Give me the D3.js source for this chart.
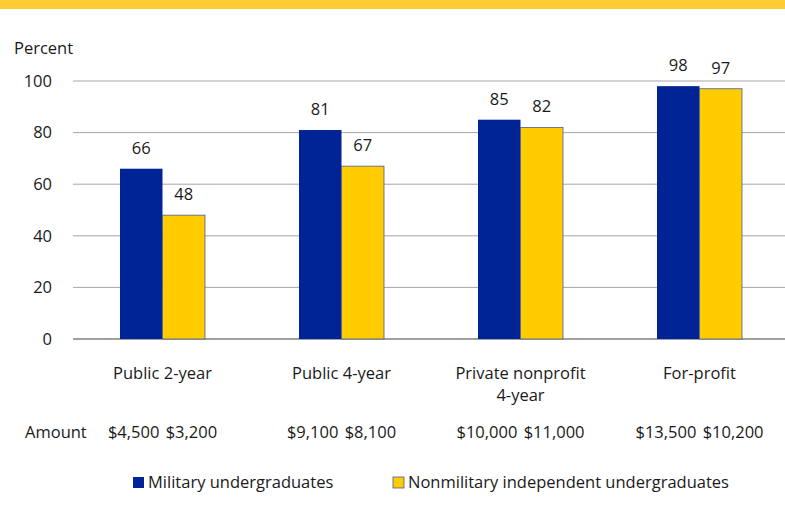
<!DOCTYPE html>
<html>
<head>
<meta charset="utf-8">
<script src="https://cdn.jsdelivr.net/npm/d3@7"></script>
<style>
  body { margin: 0; background: #fff; }
  text { font-family: "Open Sans", sans-serif; fill: #1a1a1a; }
</style>
</head>
<body>
<svg id="chart" width="785" height="516"></svg>
<script>
// data
const categories = ["Public 2-year", "Public 4-year", "Private nonprofit\n4-year", "For-profit"];
const series = ["Military undergraduates", "Nonmilitary independent undergraduates"];
const military = [66, 81, 85, 98];
const nonmilitary = [48, 67, 82, 97];
const amounts = ["$4,500 $3,200", "$9,100 $8,100", "$10,000 $11,000", "$13,500 $10,200"];
const yTicks = [0, 20, 40, 60, 80, 100];

const colors = ["#002395", "#ffcc00"];
const fs = 16.5;

const svg = d3.select("#chart");

// yellow band at top
svg.append("rect").attr("x", 0).attr("y", 0).attr("width", 785).attr("height", 9).attr("fill", "#ffcc33");

const x = d3.scaleBand().domain(categories).range([73, 789]);
const xInner = d3.scaleBand().domain(series).range([0, 85]);
const y = d3.scaleLinear().domain([0, 100]).range([339, 81]);

// gridlines
svg.append("g").selectAll("line").data(yTicks).enter()
  .append("line")
  .attr("x1", 73).attr("x2", 785)
  .attr("y1", d => y(d)).attr("y2", d => y(d))
  .attr("stroke", d => d === 0 ? "#808080" : "#a6a6a6")
  .attr("stroke-width", d => d === 0 ? 1.5 : 1);

// y tick labels
svg.append("g").selectAll("text").data(yTicks).enter()
  .append("text")
  .attr("x", 52).attr("y", d => y(d))
  .attr("dy", "0.35em")
  .attr("text-anchor", "end")
  .attr("font-size", fs)
  .text(d => d);

svg.append("text").attr("x", 14).attr("y", 54).attr("font-size", fs).text("Percent");

const rows = categories.map((c, i) => ({cat: c, vals: [military[i], nonmilitary[i]]}));

const groups = svg.append("g").selectAll("g").data(rows).enter()
  .append("g")
  .attr("transform", d => `translate(${x(d.cat) + x.bandwidth() / 2 - 42.5},0)`);

groups.selectAll("rect").data(d => d.vals.map((v, j) => ({s: series[j], v: v, j: j}))).enter()
  .append("rect")
  .attr("x", d => xInner(d.s))
  .attr("width", xInner.bandwidth())
  .attr("y", d => y(d.v))
  .attr("height", d => y(0) - y(d.v))
  .attr("fill", d => colors[d.j])
  .attr("stroke", d => d.j === 1 ? "#4a5a9a" : "none")
  .attr("stroke-width", 0.8);

groups.selectAll("text").data(d => d.vals.map((v, j) => ({s: series[j], v: v}))).enter()
  .append("text")
  .attr("x", d => xInner(d.s) + xInner.bandwidth() / 2)
  .attr("y", d => y(d.v) - 15)
  .attr("text-anchor", "middle")
  .attr("font-size", fs)
  .text(d => d.v);

// category labels
const catLabels = svg.append("g").selectAll("text").data(categories).enter()
  .append("text")
  .attr("x", d => x(d) + x.bandwidth() / 2)
  .attr("y", 379)
  .attr("text-anchor", "middle")
  .attr("font-size", fs);
catLabels.selectAll("tspan").data(d => d.split("\n")).enter()
  .append("tspan")
  .attr("x", function() { return d3.select(this.parentNode).attr("x"); })
  .attr("dy", (d, i) => i === 0 ? 0 : 22)
  .text(d => d);

// amounts row
svg.append("text").attr("x", 25).attr("y", 438).attr("font-size", fs).text("Amount");
svg.append("g").selectAll("text").data(amounts).enter()
  .append("text")
  .attr("x", (d, i) => x(categories[i]) + x.bandwidth() / 2)
  .attr("y", 438)
  .attr("text-anchor", "middle")
  .attr("font-size", fs)
  .attr("word-spacing", 2)
  .text(d => d);

// legend
const legendX = [133, 393];
const legend = svg.append("g").selectAll("g").data(series).enter()
  .append("g")
  .attr("transform", (d, i) => `translate(${legendX[i]},477)`);
legend.append("rect")
  .attr("width", 11).attr("height", 11)
  .attr("fill", (d, i) => colors[i])
  .attr("stroke", (d, i) => i === 1 ? "#4a5a9a" : "none")
  .attr("stroke-width", 0.8);
legend.append("text")
  .attr("x", 15).attr("y", 11)
  .attr("font-size", fs)
  .text(d => d);
</script>
</body>
</html>
